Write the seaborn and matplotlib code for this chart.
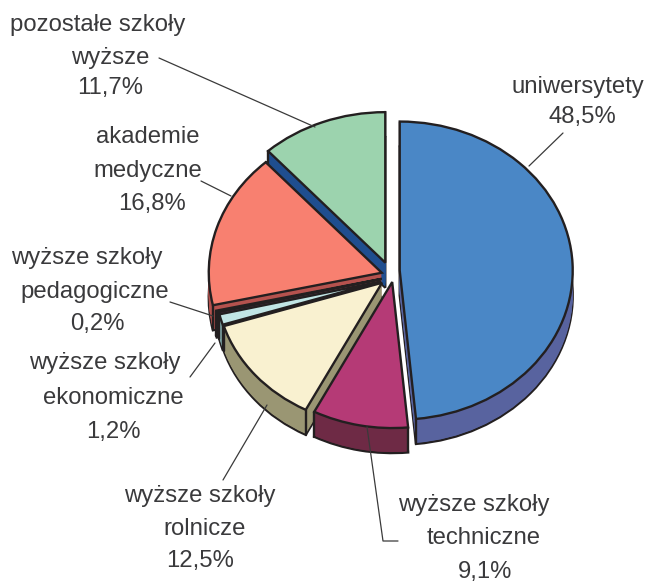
import numpy as np
import seaborn as sns
import matplotlib.pyplot as plt

sns.set_theme(style="white")
plt.rcParams['font.family'] = ['Liberation Sans', 'DejaVu Sans']

W, H = 647, 582

# clockwise from 12 o'clock
values = [48.5, 9.1, 12.5, 1.2, 0.2, 16.8, 11.7]
explode = [0.062, 0.055, 0.06, 0.06, 0.055, 0.05, 0.06]
top_colors = sns.color_palette(['#4A87C6', '#B53A76', '#F9F1D0', '#C1E5E5', '#A84A5A', '#F88070', '#9CD3AE'])
side_colors = sns.color_palette(['#58639F', '#6E2A45', '#9A9673', '#7FA5A5', '#5A2A4A', '#B5524E', '#1F4E8F'])
# back to front
draw_order = [6, 5, 4, 3, 2, 1, 0]
# hand tweaks per slice, pixels
nudge_x = [1, 6, 2, 3, 3, 2, 1]
nudge_y = [1, 4, 7, 9, 7, 5, 1]
radius = [1.0, 0.98, 0.96, 0.96, 0.98, 1.0, 1.01]

label_lines = ['pozostałe szkoły', 'wyższe', '11,7%',
               'uniwersytety', '48,5%',
               'akademie', 'medyczne', '16,8%',
               'wyższe szkoły', 'pedagogiczne', '0,2%',
               'wyższe szkoły', 'ekonomiczne', '1,2%',
               'wyższe szkoły', 'rolnicze', '12,5%',
               'wyższe szkoły', 'techniczne', '9,1%']
label_x = [98, 110, 110, 578, 582, 148, 148, 152, 87, 95, 97, 105, 113, 113, 200, 205, 200, 474, 484, 485]
label_y = [25, 58, 88, 87, 117, 137, 171, 204, 258, 292, 324, 363, 398, 432, 496, 529, 561, 505, 538, 572]

leaders = [
    ([159, 315], [58, 127]),
    ([563, 529], [133, 166]),
    ([201, 231], [181, 196]),
    ([170, 213], [302, 316]),
    ([190, 215], [377, 343]),
    ([223, 267], [480, 405]),
    ([367, 383, 398], [427, 541, 541]),
]

CX, CY = 388, 270     # pie centre in pixels
RX, RY = 173, 149     # ellipse radii in pixels
DEPTH = 25            # pixels
EDGE = '#231F20'

fig = plt.figure(figsize=(W / 100, H / 100), dpi=100)
ax = fig.add_axes([0, 0, 1, 1])


def draw_layer(dy, colors, zbase, lw):
    wedges, _ = ax.pie(values, explode=explode, colors=colors, startangle=90,
                       counterclock=False, center=(0, -dy / RY), radius=1,
                       wedgeprops={'edgecolor': EDGE if lw > 0 else 'none', 'linewidth': lw})
    for i, w in enumerate(wedges):
        cx, cy = w.center
        w.set_center((cx + nudge_x[i] / RX, cy - nudge_y[i] / RY))
        w.set_radius(radius[i])
        w.set_zorder(10 * draw_order.index(i) + zbase)
    return wedges


# side of the slices, one thin layer per pixel
for dy in range(DEPTH, 0, -1):
    draw_layer(dy, side_colors, 1 + (DEPTH - dy) * 0.01, 1.7 if dy == DEPTH else 0)

tops = draw_layer(0, top_colors, 3, 1.7)
for i, w in enumerate(tops):
    # vertical corners of the slice
    cx, cy = w.center
    for th in (w.theta1, w.theta2):
        px = cx + w.r * np.cos(np.radians(th))
        py = cy + w.r * np.sin(np.radians(th))
        ax.plot([px, px], [py, py - DEPTH / RY], color=EDGE, lw=1.7,
                zorder=10 * draw_order.index(i) + 2, solid_capstyle='round')

ax.set_aspect('auto')
ax.set_xlim(-CX / RX, (W - CX) / RX)
ax.set_ylim((CY - H) / RY, CY / RY)
ax.axis('off')

for xs, ys in leaders:
    ax.plot(np.array(xs) / W, 1 - np.array(ys) / H, color='#3A3A3A', lw=0.9,
            transform=fig.transFigure, zorder=200)

for s, x, y in zip(label_lines, label_x, label_y):
    fig.text(x / W, 1 - y / H, s, ha='center', va='center', fontsize=17.2, color='#3A3A3C')

fig.savefig('out.png', dpi=100)
